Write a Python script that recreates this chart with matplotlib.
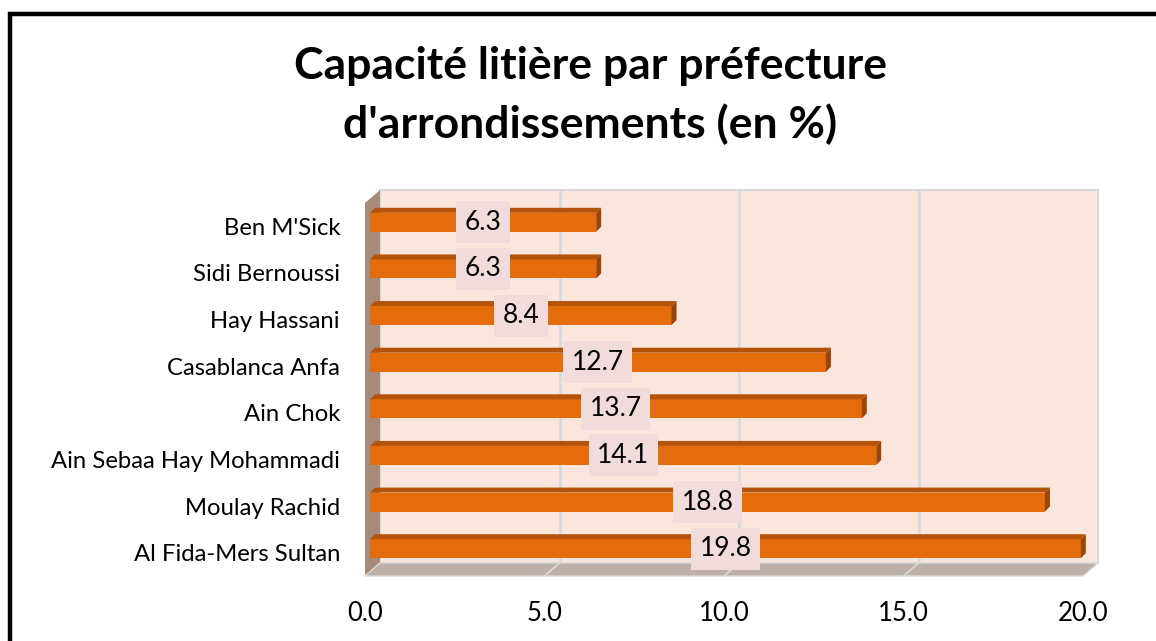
import matplotlib.pyplot as plt
from matplotlib.patches import Polygon, Rectangle

plt.rcParams['font.family'] = ['Lato', 'DejaVu Sans']

# data, bottom to top as in the chart
categories = ['Al Fida-Mers Sultan', 'Moulay Rachid', 'Ain Sebaa Hay Mohammadi',
              'Ain Chok', 'Casablanca Anfa', 'Hay Hassani', 'Sidi Bernoussi', "Ben M'Sick"]
values = [19.8, 18.8, 14.1, 13.7, 12.7, 8.4, 6.3, 6.3]
xticks = [0, 5, 10, 15, 20]

W, H = 1156, 641
fig = plt.figure(figsize=(W / 100, H / 100), dpi=100)

# front plane of the 3d box, in pixels
left_px, right_px, top_px, bot_px = 365, 1083, 203, 576
ax = fig.add_axes([left_px / W, 1 - bot_px / H, (right_px - left_px) / W, (bot_px - top_px) / H])
ax.set_xlim(0, 20)
ax.set_ylim(-0.5, 7.5)
for s in ax.spines.values():
    s.set_visible(False)
ax.patch.set_visible(False)

px_x = 20 / (right_px - left_px)
px_y = 8 / (bot_px - top_px)
dx, dy = 15 * px_x, 13 * px_y     # depth of the box

wall = '#FBE6DD'
# back wall
ax.add_patch(Rectangle((dx, -0.5 + dy), 20, 8, facecolor=wall, edgecolor='#D9D9D9',
                       lw=1.5, clip_on=False, zorder=0))
for g in xticks[1:-1]:
    ax.plot([g + dx, g + dx], [-0.5 + dy, 7.5 + dy], color='#D3DAE0', lw=1.8,
            clip_on=False, zorder=1)
# left wall
ax.add_patch(Polygon([(0, -0.5), (dx, -0.5 + dy), (dx, 7.5 + dy), (0, 7.5)],
                     closed=True, facecolor='#A68B7B', edgecolor='none', clip_on=False, zorder=1))
# floor
ax.add_patch(Polygon([(0, -0.5), (20, -0.5), (20 + dx, -0.5 + dy), (dx, -0.5 + dy)],
                     closed=True, facecolor='#BEB0A8', edgecolor='#D9D9D9', lw=1,
                     clip_on=False, zorder=1))
for g in xticks[1:-1]:
    ax.plot([g, g + dx], [-0.5, -0.5 + dy], color='#DADADA', lw=1.2, clip_on=False, zorder=1)

# bars
ox, oy = 5 * px_x, 4 * px_y
bh = 19 * px_y
bx, by = 5 * px_x, 5 * px_y
ys = list(range(len(categories)))
ax.barh([y + oy for y in ys], values, left=ox, height=bh, color='#E46C0A', zorder=3)
for y, v in zip(ys, values):
    yt = y + oy + bh / 2
    yb = y + oy - bh / 2
    ax.add_patch(Polygon([(ox, yt), (ox + v, yt), (ox + v + bx, yt + by), (ox + bx, yt + by)],
                         closed=True, facecolor='#B45309', edgecolor='none', zorder=3, clip_on=False))
    ax.add_patch(Polygon([(ox + v, yb), (ox + v + bx, yb + by), (ox + v + bx, yt + by), (ox + v, yt)],
                         closed=True, facecolor='#9A4506', edgecolor='none', zorder=3, clip_on=False))
    ax.text(ox + v / 2, y + oy, f'{v:.1f}', ha='center', va='center', fontsize=19, zorder=5,
            bbox=dict(boxstyle='square,pad=0.32', facecolor='#F2DCDB', edgecolor='none'))

ax.set_yticks(ys)
ax.set_yticklabels(categories, fontsize=17.2)
ax.set_xticks(xticks)
ax.set_xticklabels([f'{t:.1f}' for t in xticks], fontsize=18.5)
ax.tick_params(axis='both', length=0)
ax.tick_params(axis='y', pad=18)
ax.tick_params(axis='x', pad=18)

# title
fig.text(590 / W, 1 - 79 / H, 'Capacité litière par préfecture', ha='center', va='baseline',
         fontsize=32, fontweight='bold')
fig.text(590 / W, 1 - 138 / H, "d'arrondissements (en %)", ha='center', va='baseline',
         fontsize=32, fontweight='bold')

# outer frame (cut by the image edge on the right and bottom)
fig.patches.append(Rectangle((9.5 / W, -0.2), 1.2, 1 - 14 / H + 0.2, transform=fig.transFigure,
                             fill=False, edgecolor='black', lw=3.2))

fig.savefig('out.png', dpi=100)
